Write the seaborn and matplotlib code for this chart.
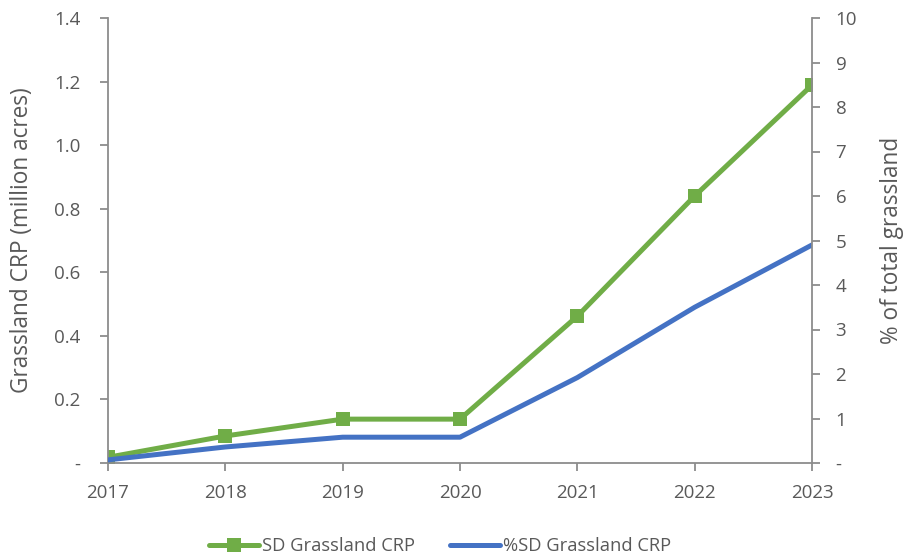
import matplotlib
matplotlib.use("Agg")
import matplotlib.pyplot as plt
import seaborn as sns
import pandas as pd
from matplotlib.lines import Line2D

years = [2017, 2018, 2019, 2020, 2021, 2022, 2023]
sd_grassland_crp = [0.018, 0.085, 0.138, 0.138, 0.462, 0.840, 1.189]
pct_sd_grassland_crp = [0.07, 0.36, 0.58, 0.58, 1.92, 3.50, 4.90]
left_ticks = [0, 0.2, 0.4, 0.6, 0.8, 1.0, 1.2, 1.4]
left_labels = ["-", "0.2", "0.4", "0.6", "0.8", "1.0", "1.2", "1.4"]
right_ticks = list(range(0, 11))
right_labels = ["-"] + [str(i) for i in range(1, 11)]

sns.set_theme(style="white")
plt.rcParams['font.family'] = ['Open Sans', 'DejaVu Sans']

GREEN = "#70AD47"
BLUE = "#4472C4"
TXT = "#595959"
AX = "#8C8C8C"

df = pd.DataFrame({"year": years, "sd": sd_grassland_crp, "pct": pct_sd_grassland_crp})

fig = plt.figure(figsize=(9.07, 5.58), dpi=100)
ax = fig.add_axes([108/907, 1-463/558, (812-108)/907, (463-18)/558])
ax2 = ax.twinx()

sns.lineplot(data=df, x="year", y="sd", ax=ax, color=GREEN, linewidth=3.6,
             marker="s", markersize=10, markeredgewidth=0, legend=False)
sns.lineplot(data=df, x="year", y="pct", ax=ax2, color=BLUE, linewidth=3.6,
             legend=False)

ax.set_xlim(2017, 2023)
ax.set_ylim(0, 1.4)
ax2.set_ylim(0, 10)
ax.set_xticks(years)
ax.set_xticklabels([str(y) for y in years])
ax.set_yticks(left_ticks)
ax.set_yticklabels(left_labels)
ax2.set_yticks(right_ticks)
ax2.set_yticklabels(right_labels)

for a in (ax, ax2):
    for s in a.spines.values():
        s.set_visible(False)
ax.spines['left'].set_visible(True)
ax.spines['bottom'].set_visible(True)
ax2.spines['right'].set_visible(True)
for s in (ax.spines['left'], ax.spines['bottom'], ax2.spines['right']):
    s.set_color(AX)
    s.set_linewidth(1.3)

FS = 13.5
ax.tick_params(axis='y', which='both', left=True, length=6, width=1.3, color=AX,
               labelsize=FS, labelcolor=TXT, pad=14, direction='out')
ax.tick_params(axis='x', bottom=True, length=6, width=1.3, color=AX,
               labelsize=FS, labelcolor=TXT, pad=9, direction='out')
ax2.tick_params(axis='y', right=True, length=6, width=1.3, color=AX,
                labelsize=FS, labelcolor=TXT, pad=11, direction='out')

ax.set_xlabel("")
ax.set_ylabel("Grassland CRP (million acres)", fontsize=16.3, color=TXT)
ax.yaxis.set_label_coords(-(108 - 22) / 704, 0.5)
ax2.set_ylabel("% of total grassland", fontsize=16.3, color=TXT, rotation=90)
ax2.yaxis.set_label_coords((892 - 108) / 704, 0.5)
ax2.yaxis.label.set_verticalalignment('center')
ax.yaxis.label.set_verticalalignment('center')
ax.grid(False)
ax2.grid(False)

handles = [
    Line2D([0], [0], color=GREEN, linewidth=3.6, marker="s", markersize=10,
           markeredgewidth=0),
    Line2D([0], [0], color=BLUE, linewidth=3.6),
]
leg = fig.legend(handles, ["SD Grassland CRP", "%SD Grassland CRP"],
                 loc="center", bbox_to_anchor=(440/907, 1-546/558), ncol=2,
                 frameon=False, fontsize=13.2, handlelength=2.75,
                 handletextpad=0.15, columnspacing=1.9)
for t in leg.get_texts():
    t.set_color(TXT)

fig.savefig("out.png", dpi=100)
